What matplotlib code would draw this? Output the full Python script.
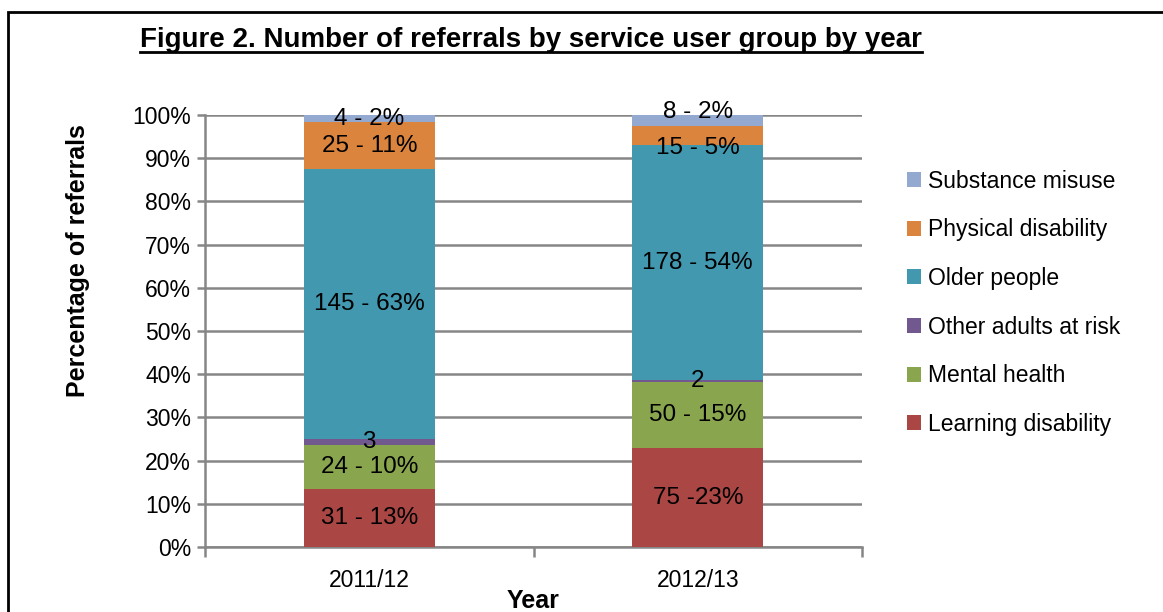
import matplotlib.pyplot as plt
from matplotlib.lines import Line2D
from matplotlib.patches import Rectangle
import numpy as np

plt.rcParams['font.family'] = ['Liberation Sans', 'DejaVu Sans']

# referrals per service user group, bottom to top of each bar
years = ["2011/12", "2012/13"]
groups = ["Learning disability", "Mental health", "Other adults at risk",
          "Older people", "Physical disability", "Substance misuse"]
counts = {
    "Learning disability": [31, 75],
    "Mental health": [24, 50],
    "Other adults at risk": [3, 2],
    "Older people": [145, 178],
    "Physical disability": [25, 15],
    "Substance misuse": [4, 8],
}
labels = {
    "Learning disability": ["31 - 13%", "75 -23%"],
    "Mental health": ["24 - 10%", "50 - 15%"],
    "Other adults at risk": ["3", "2"],
    "Older people": ["145 - 63%", "178 - 54%"],
    "Physical disability": ["25 - 11%", "15 - 5%"],
    "Substance misuse": ["4 - 2%", "8 - 2%"],
}
colors = {
    "Learning disability": "#AA4643",
    "Mental health": "#89A54E",
    "Other adults at risk": "#71588F",
    "Older people": "#4198AF",
    "Physical disability": "#DB843D",
    "Substance misuse": "#93A9CF",
}

# small vertical nudges so the thin top segments' labels don't collide
nudge = {("Substance misuse", 1): 0.02, ("Physical disability", 1): -0.03}

fig = plt.figure(figsize=(11.63, 6.12), dpi=100)
ax = fig.add_axes([0.1763, 0.1062, 0.5649, 0.7059])

totals = np.sum([counts[g] for g in groups], axis=0)
x = np.arange(len(years))
bottom = np.zeros(len(years))
handles = []
for g in groups:
    share = np.array(counts[g]) / totals
    bars = ax.bar(x, share, 0.4, bottom=bottom, color=colors[g], label=g, zorder=3)
    for i, (xi, b, s, txt) in enumerate(zip(x, bottom, share, labels[g])):
        ax.text(xi, b + s / 2 + nudge.get((g, i), 0), txt, ha='center', va='center',
                fontsize=17.5, zorder=4)
    bottom += share
    handles.append(bars)

ax.set_xlim(-0.5, 1.5)
ax.set_ylim(0, 1)
yt = np.arange(0, 1.01, 0.1)
ax.set_yticks(yt)
ax.set_yticklabels([f"{int(round(v * 100))}%" for v in yt], fontsize=16.5)
ax.yaxis.grid(True, color='#868686', linewidth=1.8, zorder=0)
ax.set_axisbelow(True)

ax.set_xticks([-0.5, 0.5, 1.5])
ax.set_xticklabels([])
ax.set_xticks(x, minor=True)
ax.set_xticklabels(years, minor=True, fontsize=16.5)
ax.tick_params(axis='x', which='minor', length=0, pad=16)
ax.tick_params(axis='x', which='major', length=7, width=1.8, color='#868686')
ax.tick_params(axis='y', length=6, width=1.8, color='#868686', pad=4)

for side in ['top', 'right']:
    ax.spines[side].set_visible(False)
for side in ['left', 'bottom']:
    ax.spines[side].set_color('#868686')
    ax.spines[side].set_linewidth(1.8)

ax.set_ylabel("Percentage of referrals", fontsize=18, fontweight='bold')
ax.yaxis.set_label_coords(-0.175, 0.664)
ax.set_xlabel("Year", fontsize=18, fontweight='bold', labelpad=-2)

leg = fig.legend(handles[::-1], groups[::-1], loc='upper left',
                 bbox_to_anchor=(0.772, 0.738), frameon=False, fontsize=16.5,
                 handlelength=0.62, handleheight=0.62, handletextpad=0.3,
                 labelspacing=1.12, borderaxespad=0)

title = fig.text(0.4566, 0.935, "Figure 2. Number of referrals by service user group by year",
                 ha='center', va='center', fontsize=20, fontweight='bold')

# frame around the whole chart
fig.add_artist(Rectangle((8 / 1163, -0.1), 1.2, 1.1 - 12 / 612, transform=fig.transFigure,
                         fill=False, edgecolor='black', linewidth=2))

# underline the title
fig.canvas.draw()
bb = title.get_window_extent().transformed(fig.transFigure.inverted())
fig.add_artist(Line2D([bb.x0, bb.x1], [bb.y0 + 0.002, bb.y0 + 0.002],
                      transform=fig.transFigure, color='black', linewidth=2))

fig.savefig("out.png", dpi=100)
